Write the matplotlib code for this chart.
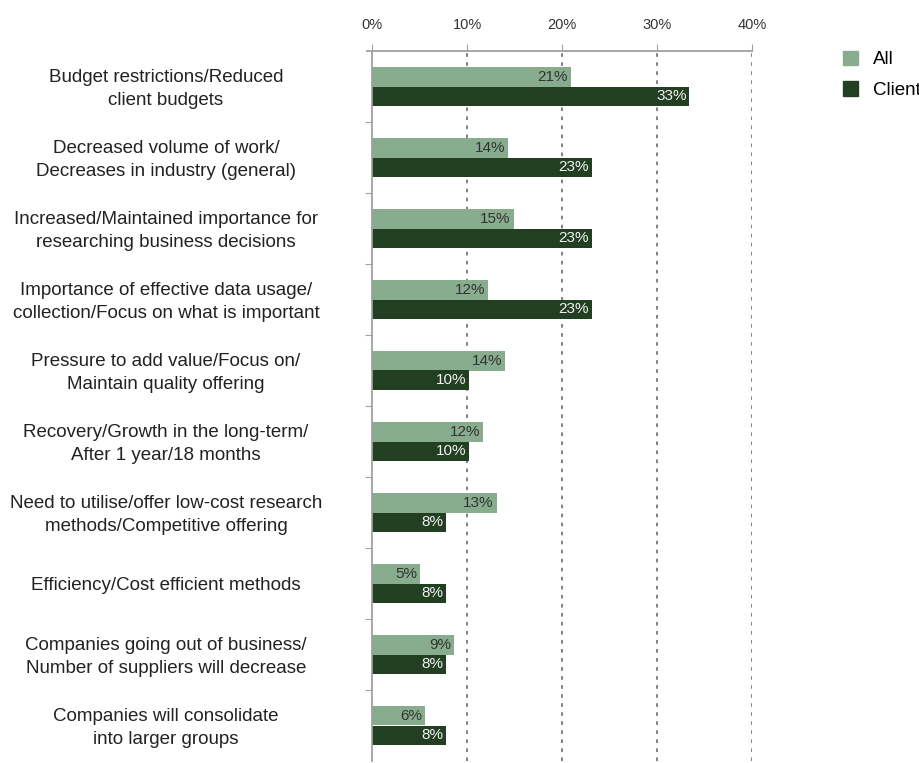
import matplotlib
matplotlib.use("Agg")
import matplotlib.pyplot as plt
import matplotlib.transforms as mtransforms
from matplotlib.patches import Patch
import numpy as np

plt.rcParams['font.family'] = ['Liberation Sans', 'DejaVu Sans']

# categories and values (percent)
categories = [
    "Budget restrictions/Reduced\nclient budgets",
    "Decreased volume of work/\nDecreases in industry (general)",
    "Increased/Maintained importance for\nresearching business decisions",
    "Importance of effective data usage/\ncollection/Focus on what is important",
    "Pressure to add value/Focus on/\nMaintain quality offering",
    "Recovery/Growth in the long-term/\nAfter 1 year/18 months",
    "Need to utilise/offer low-cost research\nmethods/Competitive offering",
    "Efficiency/Cost efficient methods",
    "Companies going out of business/\nNumber of suppliers will decrease",
    "Companies will consolidate\ninto larger groups",
]
all_vals = [20.9, 14.3, 14.9, 12.2, 14.0, 11.7, 13.1, 5.0, 8.6, 5.6]
client_vals = [33.4, 23.1, 23.1, 23.1, 10.2, 10.2, 7.8, 7.8, 7.8, 7.8]
x_ticks = [0, 10, 20, 30, 40]

c_all = "#88ad8e"
c_client = "#233f22"
grey = "#a0a0a0"

fig = plt.figure(figsize=(9.2, 7.63), dpi=100)
ax = fig.add_axes([367.5 / 920, 2 / 763, (752 - 367.5) / 920, (761 - 51) / 763])

y = np.arange(len(categories))
h = 0.28
ax.barh(y - h / 2, all_vals, height=h, color=c_all, zorder=2)
ax.barh(y + h / 2, client_vals, height=h, color=c_client, zorder=2)

for i in range(len(categories)):
    ax.text(all_vals[i] - 0.3, y[i] - h / 2, f"{all_vals[i]:.0f}%", ha='right',
            va='center', fontsize=11, color="#333333", zorder=3)
    ax.text(client_vals[i] - 0.3, y[i] + h / 2, f"{client_vals[i]:.0f}%", ha='right',
            va='center', fontsize=11, color="#f2f2f2", zorder=3)

ax.set_xlim(-0.5, 40)
ax.set_ylim(len(categories) - 0.5, -0.5)

# x axis on top
ax.xaxis.tick_top()
ax.set_xticks(x_ticks)
ax.set_xticklabels([f"{t}%" for t in x_ticks], fontsize=10.5, color="#333333")
ax.tick_params(axis='x', direction='out', length=5, color=grey, pad=9)
for t in x_ticks[1:]:
    ax.axvline(t, color="#777777", lw=1.3, ls=(0, (2, 3)), zorder=1)

# left spine at 0 with ticks between groups
ax.spines['left'].set_position(('data', 0))
ax.spines['left'].set_color(grey)
ax.spines['left'].set_linewidth(1.3)
ax.spines['top'].set_color(grey)
ax.spines['top'].set_linewidth(1.3)
ax.spines['right'].set_visible(False)
ax.spines['bottom'].set_visible(False)
ax.set_yticks(np.arange(0.5, len(categories) - 0.5, 1.0))
ax.set_yticklabels([])
ax.tick_params(axis='y', direction='out', length=5, color=grey)

trans = mtransforms.blended_transform_factory(fig.transFigure, ax.transData)
for i, lab in enumerate(categories):
    ax.text(166 / 920, y[i] + 0.035, lab, transform=trans, ha='center', va='center',
            multialignment='center', fontsize=13.5, color="#222222", linespacing=1.45)

handles = [Patch(color=c_all, label="All"), Patch(color=c_client, label="Client")]
fig.legend(handles=handles, loc='upper left', bbox_to_anchor=(836 / 920, 1 - 43 / 763),
           frameon=False, fontsize=13.5, handlelength=0.8, handleheight=0.8,
           handletextpad=0.75, labelspacing=0.7, borderaxespad=0)

fig.savefig("out.png", dpi=100)
